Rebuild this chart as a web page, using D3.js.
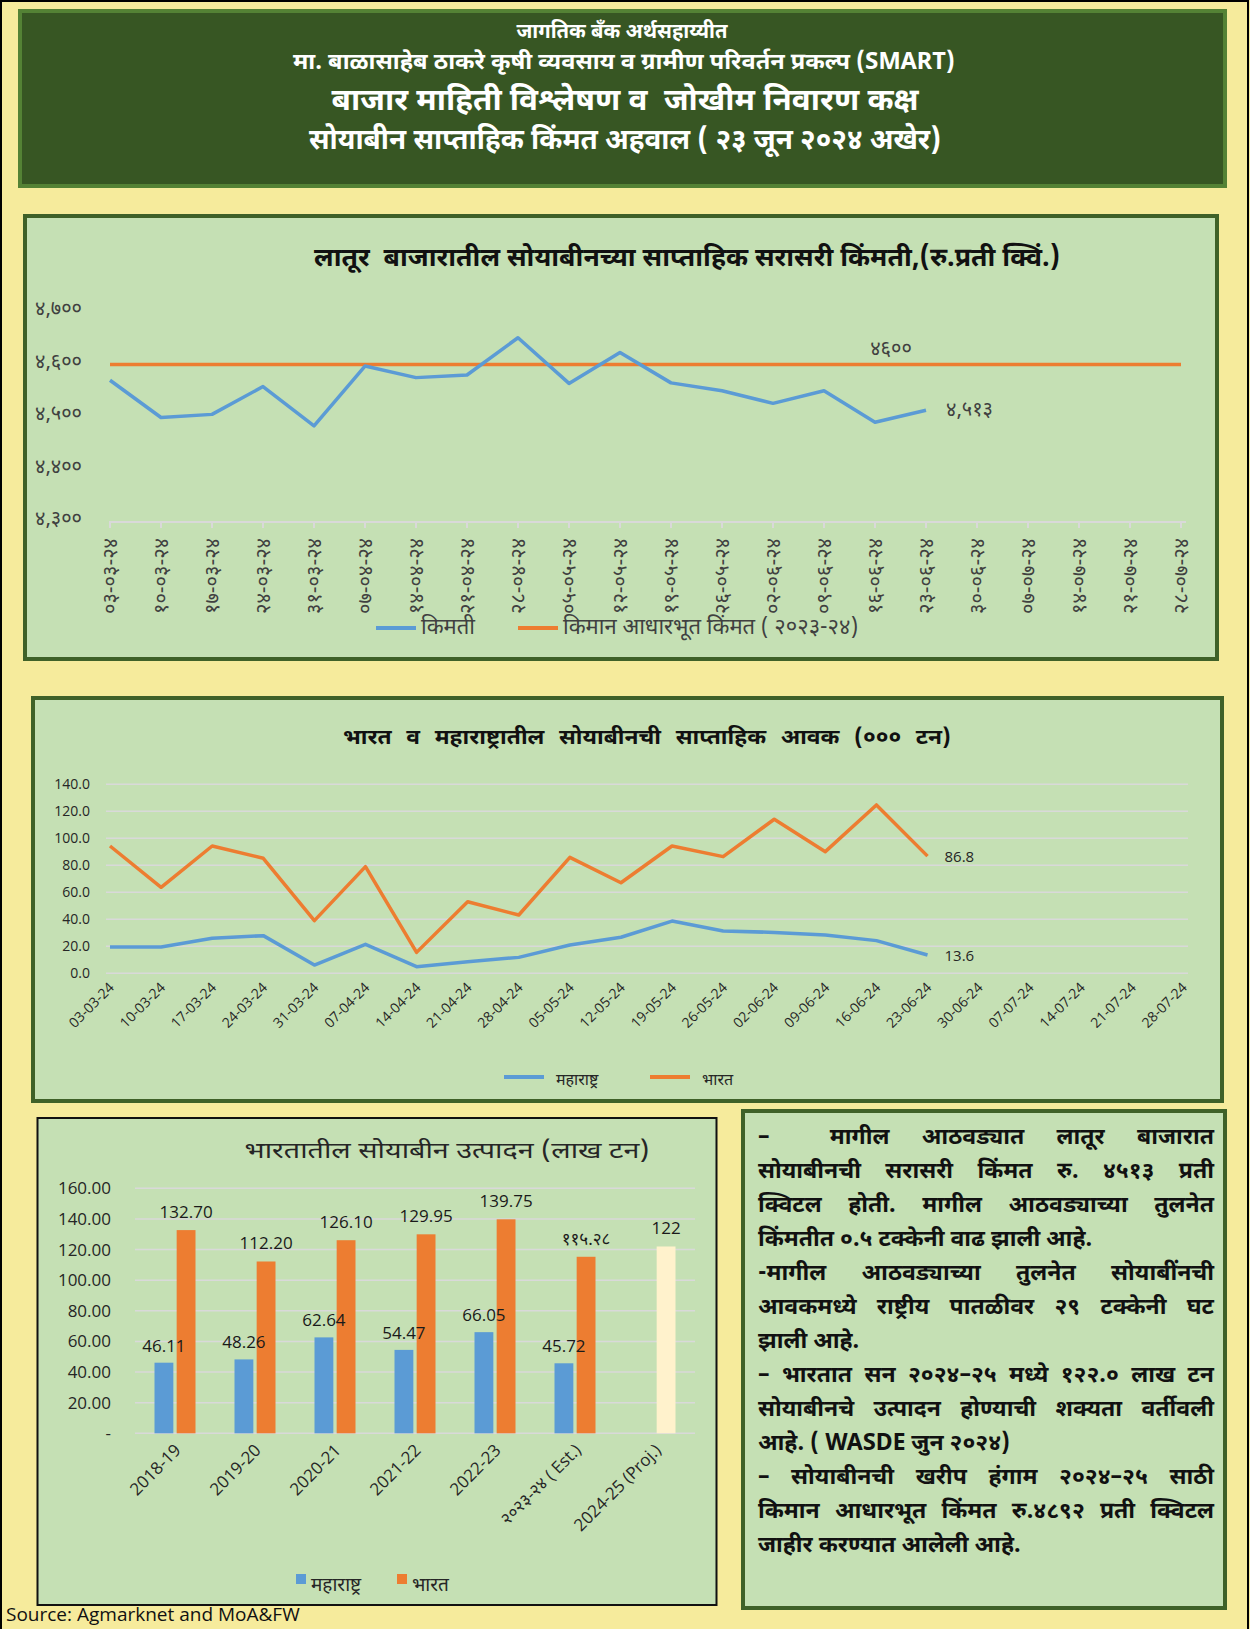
<!DOCTYPE html>
<html>
<head>
<meta charset="utf-8">
<script src="https://cdn.jsdelivr.net/npm/d3@7"></script>
<style>
  body { margin: 0; background: #f6eb9c; }
  #page { position: relative; width: 1250px; height: 1629px; overflow: hidden; }
  #page svg { position: absolute; left: 0; top: 0; }
  #notes {
    position: absolute; left: 758px; top: 1120px; width: 456px;
    font-family: "Noto Sans Devanagari", "Lohit Devanagari", "Noto Sans", sans-serif;
    font-weight: bold; font-size: 23px; line-height: 34px; color: #111;
  }
  #notes div { white-space: nowrap; text-align: justify; text-align-last: justify; }
  #notes div.last { text-align-last: left; }
</style>
</head>
<body>
<div id="page">
  <svg id="sheet" width="1250" height="1629"></svg>
  <div id="notes"></div>
</div>
<script>
// ---- data ----
const weeks = ["03-03-24","10-03-24","17-03-24","24-03-24","31-03-24","07-04-24","14-04-24","21-04-24",
  "28-04-24","05-05-24","12-05-24","19-05-24","26-05-24","02-06-24","09-06-24","16-06-24","23-06-24",
  "30-06-24","07-07-24","14-07-24","21-07-24","28-07-24"];
const weekLabelsMr = ["०३-०३-२४","१०-०३-२४","१७-०३-२४","२४-०३-२४","३१-०३-२४","०७-०४-२४","१४-०४-२४","२१-०४-२४",
  "२८-०४-२४","०५-०५-२४","१२-०५-२४","१९-०५-२४","२६-०५-२४","०२-०६-२४","०९-०६-२४","१६-०६-२४","२३-०६-२४",
  "३०-०६-२४","०७-०७-२४","१४-०७-२४","२१-०७-२४","२८-०७-२४"];

const laturPrice = [4570, 4499, 4505, 4558, 4483, 4597, 4575, 4580, 4651, 4564, 4623, 4565, 4550, 4526, 4550, 4490, 4513];
const mspPrice = 4600;
const priceTicks = [4300, 4400, 4500, 4600, 4700];
const priceTickLabels = ["४,३००", "४,४००", "४,५००", "४,६००", "४,७००"];

const arrivalMh = [19.5, 19.5, 25.9, 27.9, 6.1, 21.5, 4.9, 8.6, 11.8, 21.0, 26.7, 38.7, 31.3, 30.3, 28.4, 24.2, 13.6];
const arrivalIndia = [94.3, 63.7, 94.3, 85.2, 39.0, 79.0, 15.5, 53.0, 43.2, 85.9, 67.1, 94.3, 86.4, 114.1, 90.1, 124.7, 86.8];
const arrivalTicks = [0, 20, 40, 60, 80, 100, 120, 140];

const years = ["2018-19", "2019-20", "2020-21", "2021-22", "2022-23", "२०२३-२४ ( Est.)", "2024-25 (Proj.)"];
const prodMh = [46.11, 48.26, 62.64, 54.47, 66.05, 45.72, null];
const prodMhLabels = ["46.11", "48.26", "62.64", "54.47", "66.05", "45.72", ""];
const prodIndia = [132.70, 112.20, 126.10, 129.95, 139.75, 115.28, 122];
const prodIndiaLabels = ["132.70", "112.20", "126.10", "129.95", "139.75", "११५.२८", "122"];
const prodTicks = [0, 20, 40, 60, 80, 100, 120, 140, 160];
const prodTickLabels = ["-", "20.00", "40.00", "60.00", "80.00", "100.00", "120.00", "140.00", "160.00"];

const noteLines = [
  ["–<span style='display:inline-block;width:28px'></span> मागील आठवड्यात लातूर बाजारात", false],
  ["सोयाबीनची सरासरी किंमत रु. ४५१३ प्रती", false],
  ["क्विटल होती.  मागील आठवड्याच्या तुलनेत", false],
  ["किंमतीत ०.५ टक्केनी वाढ झाली आहे.", true],
  ["-मागील आठवड्याच्या तुलनेत सोयाबींनची", false],
  ["आवकमध्ये  राष्ट्रीय पातळीवर २९ टक्केनी घट", false],
  ["झाली आहे.", true],
  ["– भारतात सन २०२४–२५ मध्ये १२२.० लाख टन", false],
  ["सोयाबीनचे उत्पादन होण्याची शक्यता वर्तीवली", false],
  ["आहे. ( WASDE जुन २०२४)", true],
  ["– सोयाबीनची खरीप हंगाम २०२४–२५ साठी", false],
  ["किमान आधारभूत किंमत रु.४८९२ प्रती क्विटल", false],
  ["जाहीर करण्यात आलेली आहे.", true]
];

const BLUE = "#5b9bd5", ORANGE = "#ed7d31", PANEL = "#c5e0b4", FRAME = "#3f6128", GRID = "#d9d9d9";
const DEV = "'Noto Sans Devanagari', 'Lohit Devanagari', 'Noto Sans', sans-serif";
const LAT = "'Open Sans', 'Noto Sans', sans-serif";

const svg = d3.select("#sheet");

// centred title stretched to the width it has in the original
function title(t, x, y, fs, w, weight, fill) {
  return svg.append("text").attr("x", x).attr("y", y).attr("dy", "0.35em")
    .attr("text-anchor", "middle").attr("fill", fill)
    .attr("textLength", w).attr("lengthAdjust", "spacingAndGlyphs")
    .style("white-space", "pre")
    .style("font-family", DEV).style("font-size", fs + "px").style("font-weight", weight)
    .text(t);
}

// page frame
svg.append("rect").attr("x", 1).attr("y", 1).attr("width", 1247).attr("height", 1660)
  .attr("fill", "#f6eb9c").attr("stroke", "#000").attr("stroke-width", 2);

// ---- header ----
svg.append("rect").attr("x", 20).attr("y", 11).attr("width", 1205).attr("height", 175)
  .attr("fill", "#375623").attr("stroke", "#548235").attr("stroke-width", 4);
title("जागतिक बँक अर्थसहाय्यीत", 622, 31, 20, 211, "bold", "#fff");
title("मा. बाळासाहेब ठाकरे कृषी व्यवसाय व ग्रामीण परिवर्तन प्रकल्प (SMART)", 624, 61, 23, 662, "bold", "#fff");
title("बाजार माहिती विश्लेषण व  जोखीम निवारण कक्ष", 625, 99, 31, 587, "bold", "#fff");
title("सोयाबीन साप्ताहिक किंमत अहवाल ( २३ जून २०२४ अखेर)", 625, 139, 28, 632, "bold", "#fff");

// ---- chart 1 : Latur weekly price ----
svg.append("rect").attr("x", 25).attr("y", 216).attr("width", 1192).attr("height", 443)
  .attr("fill", PANEL).attr("stroke", FRAME).attr("stroke-width", 4);

title("लातूर  बाजारातील सोयाबीनच्या साप्ताहिक सरासरी किंमती,(रु.प्रती क्विं.)", 687, 257, 26, 746, "bold", "#111");

const x1 = d3.scalePoint().domain(weeks).range([110, 1181]);
const y1 = d3.scaleLinear().domain([4300, 4700]).range([522, 312]);

const g1 = svg.append("g");
g1.append("line").attr("x1", 109).attr("x2", 1186).attr("y1", y1(4300)).attr("y2", y1(4300))
  .attr("stroke", GRID).attr("stroke-width", 2);
g1.selectAll(".tk1").data(weeks).join("line")
  .attr("x1", d => x1(d)).attr("x2", d => x1(d)).attr("y1", y1(4300)).attr("y2", y1(4300) + 6)
  .attr("stroke", GRID).attr("stroke-width", 2);

g1.selectAll(".yl1").data(priceTicks).join("text")
  .attr("x", 82).attr("y", d => y1(d) - 4).attr("dy", "0.35em").attr("text-anchor", "end")
  .style("font-family", DEV).style("font-size", "20px").attr("fill", "#404040")
  .text((d, i) => priceTickLabels[i]);

g1.selectAll(".xl1").data(weeks).join("text")
  .attr("transform", d => `translate(${x1(d) + 7},${y1(4300) + 16}) rotate(-90)`)
  .attr("text-anchor", "end")
  .style("font-family", DEV).style("font-size", "20px").attr("fill", "#404040")
  .text((d, i) => weekLabelsMr[i]);

const line1 = d3.line().x((d, i) => x1(weeks[i])).y(d => y1(d));
g1.append("path").datum(weeks.map(() => mspPrice)).attr("d", line1)
  .attr("fill", "none").attr("stroke", ORANGE).attr("stroke-width", 3.5);
g1.append("path").datum(laturPrice).attr("d", line1)
  .attr("fill", "none").attr("stroke", BLUE).attr("stroke-width", 3.5).attr("stroke-linejoin", "round");

g1.append("text").attr("x", x1(weeks[15]) + 16).attr("y", y1(mspPrice) - 17).attr("dy", "0.35em")
  .attr("text-anchor", "middle").style("font-family", DEV).style("font-size", "20px").attr("fill", "#404040")
  .text("४६००");
const lastP = laturPrice.length - 1;
g1.append("text").attr("x", x1(weeks[lastP]) + 20).attr("y", y1(laturPrice[lastP]) - 1).attr("dy", "0.35em")
  .style("font-family", DEV).style("font-size", "20px").attr("fill", "#404040")
  .text("४,५१३");

// legend 1
[[376, BLUE, "किमती"], [518, ORANGE, "किमान आधारभूत किंमत ( २०२३-२४)"]].forEach(([lx, c, t]) => {
  g1.append("line").attr("x1", lx).attr("x2", lx + 40).attr("y1", 628).attr("y2", 628)
    .attr("stroke", c).attr("stroke-width", 4);
  g1.append("text").attr("x", lx + 45).attr("y", 626).attr("dy", "0.35em")
    .style("font-family", DEV).style("font-size", "22px").attr("fill", "#404040").text(t);
});

// ---- chart 2 : weekly arrivals ----
svg.append("rect").attr("x", 33).attr("y", 698).attr("width", 1189).attr("height", 403)
  .attr("fill", PANEL).attr("stroke", FRAME).attr("stroke-width", 4);

title("भारत व महाराष्ट्रातील सोयाबीनची साप्ताहिक आवक (००० टन)", 647, 737, 21, 608, "bold", "#111")
  .style("word-spacing", "8px");

const x2 = d3.scalePoint().domain(weeks).range([110, 1183]);
const y2 = d3.scaleLinear().domain([0, 140]).range([973.3, 784.3]);
const g2 = svg.append("g");

g2.selectAll(".gr2").data(arrivalTicks).join("line")
  .attr("x1", 106).attr("x2", 1188).attr("y1", d => y2(d)).attr("y2", d => y2(d))
  .attr("stroke", GRID).attr("stroke-width", 1.5);
g2.selectAll(".yl2").data(arrivalTicks).join("text")
  .attr("x", 90).attr("y", d => y2(d)).attr("dy", "0.35em").attr("text-anchor", "end")
  .style("font-family", LAT).style("font-size", "14px").attr("fill", "#262626")
  .text(d => d3.format(".1f")(d));
g2.selectAll(".xl2").data(weeks).join("text")
  .attr("transform", d => `translate(${x2(d) + 5},${y2(0) + 15}) rotate(-45)`)
  .attr("text-anchor", "end")
  .style("font-family", LAT).style("font-size", "14px").attr("fill", "#262626")
  .text(d => d);

const line2 = d3.line().x((d, i) => x2(weeks[i])).y(d => y2(d));
g2.append("path").datum(arrivalIndia).attr("d", line2)
  .attr("fill", "none").attr("stroke", ORANGE).attr("stroke-width", 3.5).attr("stroke-linejoin", "round");
g2.append("path").datum(arrivalMh).attr("d", line2)
  .attr("fill", "none").attr("stroke", BLUE).attr("stroke-width", 3.5).attr("stroke-linejoin", "round");

const lastA = arrivalIndia.length - 1;
[arrivalIndia[lastA], arrivalMh[lastA]].forEach(v => {
  g2.append("text").attr("x", x2(weeks[lastA]) + 17).attr("y", y2(v) + 1).attr("dy", "0.35em")
    .style("font-family", LAT).style("font-size", "15px").attr("fill", "#262626")
    .text(d3.format(".1f")(v));
});

[[504, BLUE, "महाराष्ट्र"], [650, ORANGE, "भारत"]].forEach(([lx, c, t]) => {
  g2.append("line").attr("x1", lx).attr("x2", lx + 40).attr("y1", 1077).attr("y2", 1077)
    .attr("stroke", c).attr("stroke-width", 4);
  g2.append("text").attr("x", lx + 52).attr("y", 1079).attr("dy", "0.35em")
    .style("font-family", DEV).style("font-size", "16px").attr("fill", "#262626").text(t);
});

// ---- chart 3 : production bars ----
svg.append("rect").attr("x", 37.5).attr("y", 1118).attr("width", 679).attr("height", 487)
  .attr("fill", PANEL).attr("stroke", "#111").attr("stroke-width", 2);

title("भारतातील सोयाबीन उत्पादन (लाख टन)", 447, 1150, 23, 405, "normal", "#262626");

const x3 = d3.scaleBand().domain(years).range([135, 695]);
const xs = d3.scaleBand().domain(["mh", "in"]).range([-20.5, 20.5]).paddingInner(0.15);
const y3 = d3.scaleLinear().domain([0, 160]).range([1433.3, 1188.3]);
const g3 = svg.append("g");

g3.selectAll(".gr3").data(prodTicks).join("line")
  .attr("x1", 135).attr("x2", 695).attr("y1", d => y3(d)).attr("y2", d => y3(d))
  .attr("stroke", GRID).attr("stroke-width", 1.5);
g3.selectAll(".yl3").data(prodTicks).join("text")
  .attr("x", 111).attr("y", d => y3(d)).attr("dy", "0.35em").attr("text-anchor", "end")
  .style("font-family", LAT).style("font-size", "17px").attr("fill", "#262626")
  .text((d, i) => prodTickLabels[i]);

const cx = d => x3(d) + x3.bandwidth() / 2;
g3.selectAll(".bm").data(years.filter((d, i) => prodMh[i] != null)).join("rect")
  .attr("x", d => cx(d) + xs("mh")).attr("width", xs.bandwidth())
  .attr("y", d => y3(prodMh[years.indexOf(d)]))
  .attr("height", d => y3(0) - y3(prodMh[years.indexOf(d)]))
  .attr("fill", BLUE);
g3.selectAll(".bi").data(years).join("rect")
  .attr("x", d => cx(d) + xs("in")).attr("width", xs.bandwidth())
  .attr("y", (d, i) => y3(prodIndia[i]))
  .attr("height", (d, i) => y3(0) - y3(prodIndia[i]))
  .attr("fill", (d, i) => i === years.length - 1 ? "#fff2cc" : ORANGE);

g3.selectAll(".lm").data(years).join("text")
  .attr("x", d => cx(d) + xs("mh") + xs.bandwidth() / 2)
  .attr("y", (d, i) => prodMh[i] == null ? 0 : y3(prodMh[i]) - 17).attr("dy", "0.35em")
  .attr("text-anchor", "middle").style("font-family", LAT).style("font-size", "17px").attr("fill", "#1a1a1a")
  .text((d, i) => prodMhLabels[i]);
g3.selectAll(".li").data(years).join("text")
  .attr("x", d => cx(d) + xs("in") + xs.bandwidth() / 2)
  .attr("y", (d, i) => y3(prodIndia[i]) - 18).attr("dy", "0.35em")
  .attr("text-anchor", "middle").style("font-family", (d, i) => i === 5 ? DEV : LAT)
  .style("font-size", "17px").attr("fill", "#1a1a1a")
  .text((d, i) => prodIndiaLabels[i]);

g3.selectAll(".xl3").data(years).join("text")
  .attr("transform", d => `translate(${cx(d) + 7},${y3(0) + 18}) rotate(-45)`)
  .attr("text-anchor", "end")
  .style("font-family", LAT).style("font-size", "17px").attr("fill", "#262626")
  .text(d => d);

[[296, BLUE, "महाराष्ट्र"], [397, ORANGE, "भारत"]].forEach(([lx, c, t]) => {
  g3.append("rect").attr("x", lx).attr("y", 1574).attr("width", 10).attr("height", 10).attr("fill", c);
  g3.append("text").attr("x", lx + 15).attr("y", 1584).attr("dy", "0.35em")
    .style("font-family", DEV).style("font-size", "19px").attr("fill", "#262626").text(t);
});

// ---- notes panel ----
svg.append("rect").attr("x", 743).attr("y", 1111).attr("width", 482).attr("height", 497)
  .attr("fill", PANEL).attr("stroke", FRAME).attr("stroke-width", 4);

d3.select("#notes").style("top", "1121px").selectAll("div").data(noteLines).join("div")
  .attr("class", d => d[1] ? "last" : null)
  .html(d => d[0])
  .each(function () {
    // shrink a line that would run past the panel
    let fs = 23;
    while (this.scrollWidth > 456 && fs > 16) { fs -= 0.5; this.style.fontSize = fs + "px"; }
  });

// source
svg.append("text").attr("x", 6).attr("y", 1621)
  .style("font-family", LAT).style("font-size", "19px").attr("fill", "#111")
  .text("Source: Agmarknet and MoA&FW");
</script>
</body>
</html>
